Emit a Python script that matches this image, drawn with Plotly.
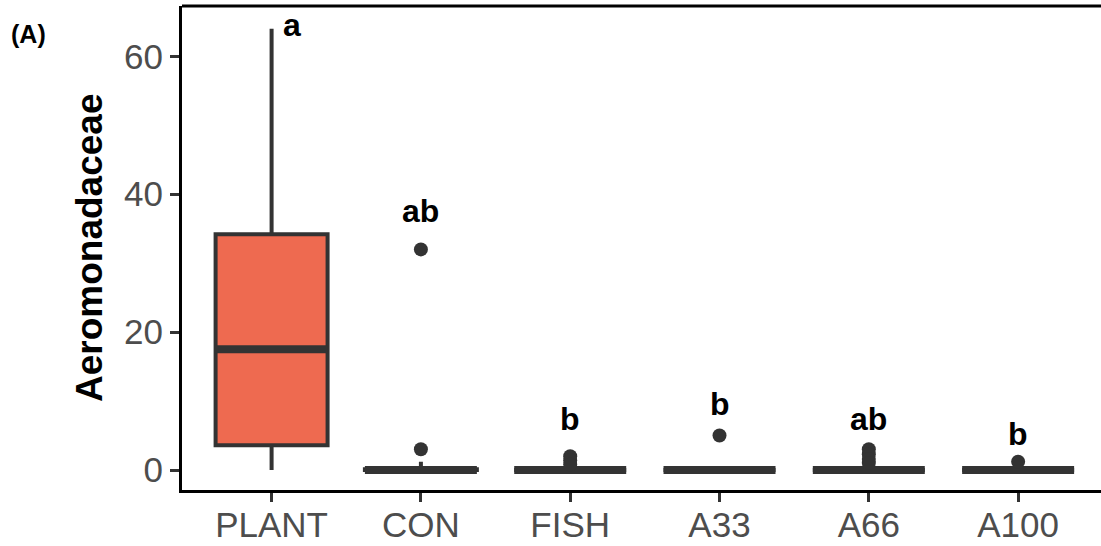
import plotly.graph_objects as go

# ---- data ----
categories = ["PLANT", "CON", "FISH", "A33", "A66", "A100"]
q1 = [3.6, 0.0, 0.0, 0.0, 0.0, 0.0]
medians = [17.5, 0.0, 0.0, 0.0, 0.0, 0.0]
q3 = [34.2, 0.1, 0.0, 0.0, 0.0, 0.0]
lower_whisker = [0.0, 0.0, 0.0, 0.0, 0.0, 0.0]
upper_whisker = [64.0, 1.2, 0.0, 0.0, 0.0, 0.0]
outliers = {
    "CON": [32.0, 3.0],
    "FISH": [2.0, 1.4, 0.8],
    "A33": [5.0],
    "A66": [3.0, 2.3, 1.6, 1.0],
    "A100": [1.2],
}
letters = ["a", "ab", "b", "b", "ab", "b"]
letter_y = [64.5, 37.5, 7.4, 9.6, 7.4, 5.2]
letter_dx = [0.14, 0, 0, 0, 0, 0]
y_ticks = [0, 20, 40, 60]

FONT = "Arial, Liberation Sans, sans-serif"
LINE = "#333333"
FILLS = ["#EE6A50", "#FFFFFF", "#FFFFFF", "#FFFFFF", "#FFFFFF", "#FFFFFF"]
BOXW = 0.75

fig = go.Figure()
pos = list(range(1, len(categories) + 1))

for i, c in enumerate(categories):
    fig.add_trace(go.Box(
        x=[pos[i]], q1=[q1[i]], median=[medians[i]], q3=[q3[i]],
        lowerfence=[lower_whisker[i]], upperfence=[upper_whisker[i]],
        width=BOXW, whiskerwidth=0, fillcolor=FILLS[i],
        line=dict(color=LINE, width=4), boxpoints=False,
        hoverinfo="skip", showlegend=False,
    ))
    # thick median (ggplot fatten)
    fig.add_trace(go.Scatter(
        x=[pos[i] - BOXW / 2, pos[i] + BOXW / 2], y=[medians[i], medians[i]],
        mode="lines", line=dict(color=LINE, width=8),
        hoverinfo="skip", showlegend=False,
    ))

for c, vals in outliers.items():
    p = pos[categories.index(c)]
    fig.add_trace(go.Scatter(
        x=[p] * len(vals), y=vals, mode="markers",
        marker=dict(color=LINE, size=14, line=dict(width=0)),
        hoverinfo="skip", showlegend=False,
    ))

for i, t in enumerate(letters):
    fig.add_annotation(
        x=pos[i] + letter_dx[i], y=letter_y[i], text=f"<b>{t}</b>",
        showarrow=False, xanchor="center", yanchor="middle",
        font=dict(family=FONT, size=32, color="#000000"),
    )

fig.add_annotation(
    x=0, xref="paper", y=0.5, yref="paper", xshift=-93,
    text="<b>Aeromonadaceae</b>", textangle=-90, showarrow=False,
    xanchor="center", yanchor="middle",
    font=dict(family=FONT, size=37, color="#000000"),
)
fig.add_annotation(
    x=0, xref="paper", y=1, yref="paper", xshift=-154, yshift=-28,
    text="<b>(A)</b>", showarrow=False, xanchor="center", yanchor="middle",
    font=dict(family=FONT, size=25, color="#000000"),
)

fig.add_shape(type="line", xref="paper", yref="paper", x0=0, x1=1, y0=1, y1=1,
              line=dict(color="#000000", width=3))

fig.update_xaxes(
    range=[0.4, 6.555], tickvals=pos, ticktext=categories, automargin=False,
    showgrid=False, zeroline=False, showline=True, linecolor="#000000", linewidth=3,
    ticks="outside", ticklen=9, tickwidth=3, tickcolor=LINE, ticklabelstandoff=-7,
    tickfont=dict(family=FONT, size=35, color="#4D4D4D"),
)
fig.update_yaxes(
    range=[-2.9, 67.3], tickvals=y_ticks, automargin=False,
    showgrid=False, zeroline=False, showline=True, linecolor="#000000", linewidth=3,
    ticks="outside", ticklen=9, tickwidth=3, tickcolor=LINE,
    tickfont=dict(family=FONT, size=35, color="#4D4D4D"),
)
fig.update_layout(
    width=1101, height=546,
    margin=dict(l=182, r=0, t=6, b=56, pad=0, autoexpand=False),
    plot_bgcolor="#FFFFFF", paper_bgcolor="#FFFFFF",
    showlegend=False,
)

fig.write_html("out.html", config={"displayModeBar": False},
               post_script="document.body.style.margin='0';document.body.style.overflow='hidden';")
